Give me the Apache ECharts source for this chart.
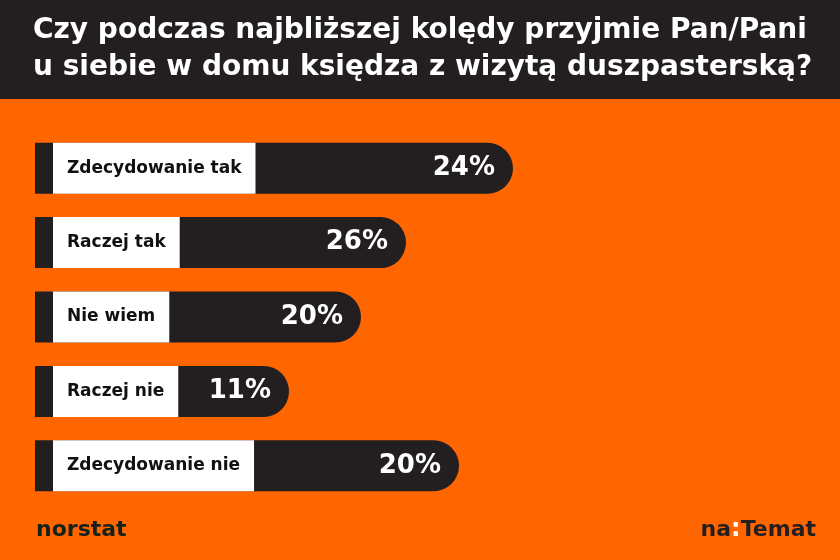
<!DOCTYPE html>
<html>
<head>
<meta charset="utf-8">
<script src="https://cdn.jsdelivr.net/npm/echarts@6/dist/echarts.min.js"></script>
<style>
  html, body { margin: 0; padding: 0; background: #ff6600; }
  #chart { width: 840px; height: 560px; }
</style>
</head>
<body>
<div id="chart"></div>
<script>
// dane z wykresu
var categories = ['Zdecydowanie tak', 'Raczej tak', 'Nie wiem', 'Raczej nie', 'Zdecydowanie nie'];
var values = [24, 26, 20, 11, 20];
// długość paska (jednostki osi)
var barLengths = [478, 371, 326, 254, 424];

var ORANGE = '#ff6600';
var DARK = '#231e20';
var FONT = 'DejaVu Sans';

var chart = echarts.init(document.getElementById('chart'), null, { renderer: 'canvas' });

var option = {
  backgroundColor: ORANGE,
  animation: false,
  title: {
    text: 'Czy podczas najbliższej kolędy przyjmie Pan/Pani\nu siebie w domu księdza z wizytą duszpasterską?',
    left: 33,
    top: 12,
    padding: 0,
    textStyle: {
      color: '#fff',
      fontFamily: FONT,
      fontWeight: 'bold',
      fontSize: 28,
      lineHeight: 37
    }
  },
  graphic: [
    {
      type: 'rect',
      z: -1,
      shape: { x: 0, y: 0, width: 840, height: 99 },
      style: { fill: DARK }
    },
    {
      type: 'text',
      left: 36,
      top: 519,
      style: {
        text: 'norstat',
        fill: '#13221b',
        font: 'bold 22px "DejaVu Sans"'
      }
    },
    {
      type: 'text',
      right: 24,
      top: 518,
      style: {
        text: 'na{c|:}Temat',
        fill: DARK,
        font: 'bold 22px "DejaVu Sans"',
        rich: {
          c: { fill: '#ffffff', font: 'bold 24px "DejaVu Sans"' }
        }
      }
    }
  ],
  grid: {
    left: 35,
    right: 35,
    top: 131,
    height: 372,
    containLabel: false
  },
  xAxis: {
    type: 'value',
    min: 0,
    max: 770,
    show: false
  },
  yAxis: {
    type: 'category',
    data: categories,
    inverse: true,
    show: false
  },
  series: [
    {
      // ciemny pasek z wartością procentową
      type: 'bar',
      data: barLengths,
      barWidth: 51,
      itemStyle: {
        color: DARK,
        borderRadius: [0, 25.5, 25.5, 0]
      },
      label: {
        show: true,
        position: 'insideRight',
        distance: 18,
        formatter: function (p) { return values[p.dataIndex] + '%'; },
        color: '#fff',
        fontFamily: FONT,
        fontWeight: 'bold',
        fontSize: 26
      }
    },
    {
      // biała etykieta kategorii
      type: 'bar',
      data: barLengths,
      barWidth: 51,
      barGap: '-100%',
      itemStyle: { color: 'rgba(0,0,0,0)' },
      label: {
        show: true,
        position: 'insideLeft',
        distance: 18,
        formatter: function (p) { return '{b|' + categories[p.dataIndex] + '}'; },
        rich: {
          b: {
            backgroundColor: '#fff',
            color: '#111',
            fontFamily: FONT,
            fontWeight: 'bold',
            fontSize: 17,
            height: 51,
            lineHeight: 51,
            padding: [0, 14, 0, 14]
          }
        }
      }
    }
  ]
};

chart.setOption(option);
</script>
</body>
</html>
